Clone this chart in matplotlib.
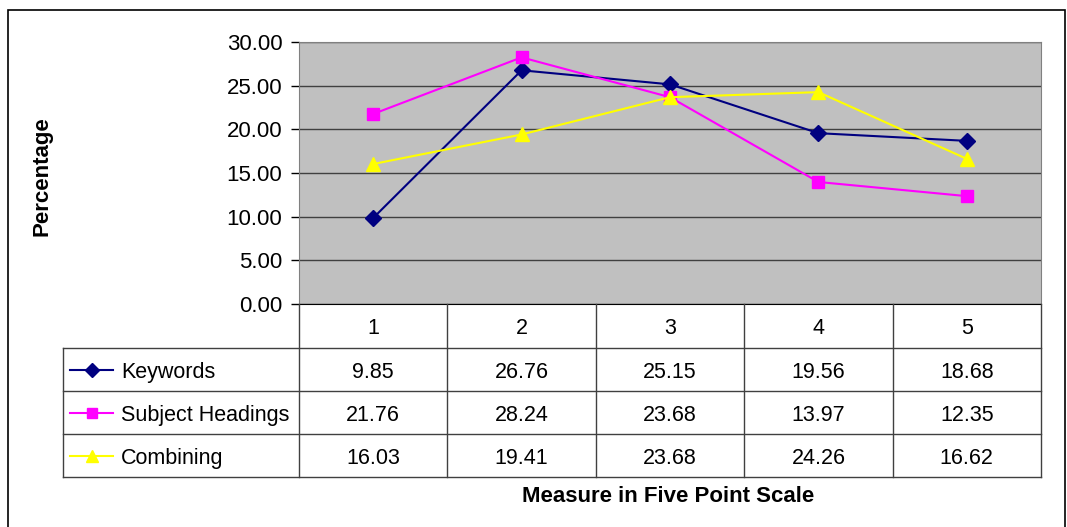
import matplotlib.pyplot as plt
from matplotlib.patches import Rectangle

plt.rcParams['font.family'] = ['Liberation Sans', 'DejaVu Sans']

categories = ["1", "2", "3", "4", "5"]
series_names = ["Keywords", "Subject Headings", "Combining"]
keywords = [9.85, 26.76, 25.15, 19.56, 18.68]
subject_headings = [21.76, 28.24, 23.68, 13.97, 12.35]
combining = [16.03, 19.41, 23.68, 24.26, 16.62]
yticks = [0, 5, 10, 15, 20, 25, 30]

W, H = 1067, 527
fs = 15.5
fig = plt.figure(figsize=(W / 100, H / 100), dpi=100)

# outer chart border
fig.patches.append(Rectangle((8 / W, -0.01), (1065 - 8) / W, 1 - 10 / H + 0.01,
                             transform=fig.transFigure, fill=False,
                             edgecolor="black", linewidth=1.2))

# plot area (pixels: x 299..1041, y 42..304)
L, R, T, B = 299, 1041, 42, 304
ax = fig.add_axes([L / W, 1 - B / H, (R - L) / W, (B - T) / H])
ax.set_facecolor("#C0C0C0")
x = list(range(1, len(categories) + 1))
styles = [("#000080", "D", 8, keywords),
          ("#FF00FF", "s", 8, subject_headings),
          ("#FFFF00", "^", 10, combining)]
for (c, m, ms, vals) in styles:
    ax.plot(x, vals, color=c, marker=m, markersize=ms, linewidth=1.5)
ax.set_xlim(0.5, len(categories) + 0.5)
ax.set_ylim(0, 30)
ax.set_yticks(yticks)
ax.set_yticklabels([f"{v:.2f}" for v in yticks], fontsize=16)
ax.set_xticks([])
ax.grid(axis="y", color="#404040", linewidth=1)
ax.set_axisbelow(True)
for s in ["top", "right", "left"]:
    ax.spines[s].set_color("#808080")
ax.spines["bottom"].set_color("black")
ax.tick_params(axis="y", length=6, width=1, pad=6)

fig.text(42 / W, 1 - 176 / H, "Percentage", rotation=90, ha="center",
         va="center", fontsize=16, fontweight="bold")

# data table below
tb = fig.add_axes([0, 0, 1, 1])
tb.set_xlim(0, W)
tb.set_ylim(H, 0)
tb.axis("off")
col_w = (R - L) / len(categories)
row_top = 348
row_h = 43
tl = 63
lc = "#404040"
# header row verticals
for i in range(len(categories) + 1):
    xx = L + i * col_w
    tb.plot([xx, xx], [B, row_top + row_h * 3], color=lc, linewidth=1)
for i, cat in enumerate(categories):
    tb.text(L + (i + 0.5) * col_w, (B + row_top) / 2 + 2, cat, ha="center",
            va="center", fontsize=fs)
# horizontal lines
for j in range(4):
    yy = row_top + j * row_h
    tb.plot([tl, R], [yy, yy], color=lc, linewidth=1)
tb.plot([tl, tl], [row_top, row_top + 3 * row_h], color=lc, linewidth=1)
for j, (name, (c, m, ms, vals)) in enumerate(zip(series_names, styles)):
    yc = row_top + (j + 0.5) * row_h
    tb.plot([70, 113], [yc, yc], color=c, linewidth=1.5)
    tb.plot([92], [yc], color=c, marker=m, markersize=ms - 1)
    tb.text(121, yc + 3, name, ha="left", va="center", fontsize=fs)
    for i, v in enumerate(vals):
        tb.text(L + (i + 0.5) * col_w, yc + 3, f"{v:.2f}", ha="center",
                va="center", fontsize=fs)

fig.text(668 / W, 1 - 496 / H, "Measure in Five Point Scale", ha="center",
         va="center", fontsize=16, fontweight="bold")

fig.savefig("out.png", dpi=100)
